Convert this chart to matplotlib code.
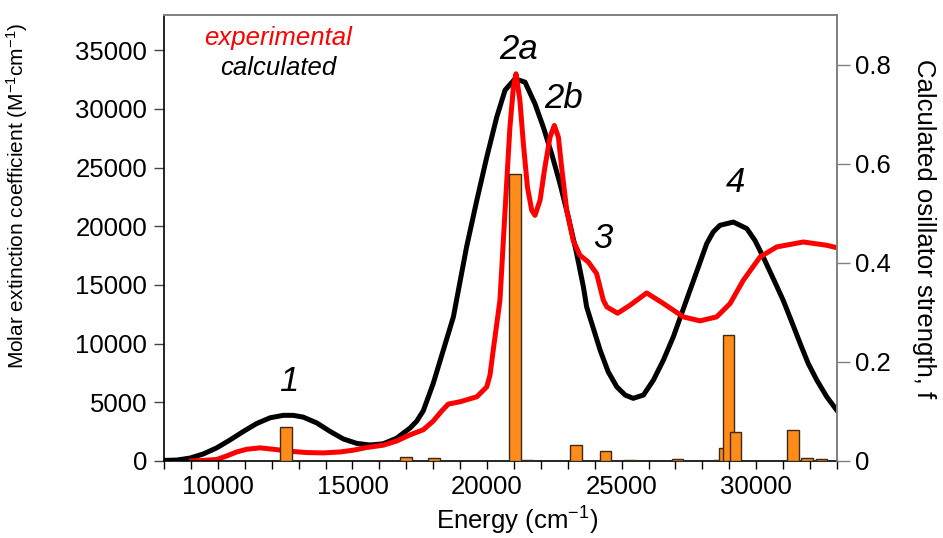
import matplotlib
matplotlib.use("Agg")
import matplotlib.pyplot as plt
from matplotlib.ticker import MultipleLocator

plt.rcParams['font.family'] = ['Liberation Sans', 'DejaVu Sans']
plt.rcParams['mathtext.fontset'] = 'custom'
plt.rcParams['mathtext.rm'] = 'Liberation Sans'
plt.rcParams['mathtext.it'] = 'Liberation Sans:italic'

# calculated spectrum (black)
calc_x = [8000, 8470, 8970, 9460, 9960, 10450, 10950, 11440, 11940, 12430,
          12800, 13170, 13670, 14170, 14660, 15160, 15650, 16150, 16640, 17140,
          17390, 17630, 18000, 18750, 19240, 19620, 19990, 20360, 20670, 21040,
          21410, 21780, 22090, 22400, 22710, 23020, 23330, 23580, 23700, 24200,
          24500, 24820, 25130, 25430, 25810, 26180, 26550, 26920, 27230, 27540,
          27850, 28160, 28400, 28650, 29150, 29650, 29950, 30260, 30630, 31000,
          31320, 31630, 31930, 32250, 32620, 33000]
calc_y = [50, 80, 250, 600, 1120, 1790, 2520, 3190, 3680, 3890,
          3890, 3740, 3250, 2520, 1880, 1500, 1360, 1470, 1940, 2810,
          3400, 4270, 6600, 12280, 18240, 22210, 25890, 29300, 31600, 32560,
          32280, 30440, 28450, 26180, 23630, 20790, 17670, 14830, 13130, 9450,
          7600, 6320, 5620, 5340, 5620, 6890, 8590, 10580, 12570, 14550,
          16530, 18520, 19510, 20080, 20360, 19800, 18800, 17380, 15550, 13700,
          11850, 10020, 8310, 6890, 5470, 4300]

# experimental spectrum (red)
exp_x = [9030, 9460, 9960, 10330, 10700, 11070, 11570, 12060, 12680, 13300,
         13920, 14540, 15030, 15530, 16150, 16640, 17140, 17630, 18000, 18320,
         18560, 19000, 19620, 19990, 20110, 20230, 20480, 20670, 20850, 20980,
         21076, 21220, 21350, 21500, 21660, 21780, 21970, 22150, 22340, 22500,
         22650, 22770, 22960, 23200, 23450, 23760, 24070, 24320, 24450, 24850,
         25310, 25930, 26550, 27290, 27910, 28530, 29030, 29520, 30140, 30760,
         31750, 32620, 33000]
exp_y = [0, 50, 130, 430, 770, 1000, 1120, 1000, 830, 720,
         690, 770, 920, 1150, 1350, 1700, 2230, 2660, 3400, 4270,
         4850, 5050, 5470, 6320, 7320, 9450, 13700, 21360, 28450, 31850,
         32990, 30750, 27030, 23340, 21360, 20930, 22210, 25040, 27600, 28590,
         27600, 25040, 21360, 18800, 17530, 16960, 15970, 13700, 13130, 12590,
         13270, 14320, 13420, 12280, 11940, 12280, 13420, 15400, 17380, 18240,
         18660, 18380, 18170]

# calculated oscillator strengths (bars, right axis)
osc_x = [12530, 16990, 18030, 21040, 21500, 23300, 23830, 24410, 25310, 26250,
         27080, 28060, 28600, 28830, 28980, 29220, 30020, 30950, 31370, 31890,
         32420]
osc_f = [0.068, 0.009, 0.006, 0.579, 0.002, 0.032, 0.001, 0.020, 0.002, 0.001,
         0.004, 0.001, 0.003, 0.026, 0.254, 0.058, 0.001, 0.001, 0.062, 0.006,
         0.004]

band_labels = ['1', '2a', '2b', '3', '4']
band_x = [12640, 21190, 22860, 24310, 29210]
band_y = [6800, 35060, 30890, 18980, 23740]

fig = plt.figure(figsize=(9.43, 5.38), dpi=100)
ax = fig.add_axes([164 / 943, 77 / 538, 673 / 943, 446 / 538])
ax2 = ax.twinx()

ax.plot(calc_x, calc_y, color='black', lw=3.6, solid_joinstyle='round')
ax.plot(exp_x, exp_y, color='#ff0000', lw=3.6, solid_joinstyle='round')
ax2.bar(osc_x, osc_f, width=420, color='#ff8c1a', edgecolor='#3b2a14', linewidth=1.0)

ax.set_xlim(8000, 33000)
ax.set_ylim(0, 38000)
ax2.set_ylim(0, 0.9)

ax.xaxis.set_major_locator(MultipleLocator(5000))
ax.xaxis.set_minor_locator(MultipleLocator(1000))
ax.yaxis.set_major_locator(MultipleLocator(5000))
ax2.set_yticks([0, 0.2, 0.4, 0.6, 0.8])
ax2.set_yticklabels(['0', '0.2', '0.4', '0.6', '0.8'])

ax.tick_params(axis='x', which='both', direction='out', length=6, width=1, labelsize=18.5, pad=4)
ax.tick_params(axis='y', direction='out', length=7, width=1, labelsize=18.5, pad=5, color='#444444')
ax2.tick_params(axis='y', direction='out', length=9, width=1, labelsize=18.5, pad=4, color='#808080')

for s in ['top', 'right']:
    ax.spines[s].set_color('#808080')
    ax2.spines[s].set_color('#808080')
ax.spines['left'].set_color('black')
ax.spines['bottom'].set_color('black')
ax2.spines['left'].set_visible(False)
ax2.spines['bottom'].set_visible(False)
for s in list(ax.spines.values()) + list(ax2.spines.values()):
    s.set_linewidth(1.2)

ax.set_xlabel('Energy (cm$^{-1}$)', fontsize=18.5)
ax.xaxis.set_label_coords(0.525, -0.098)
ax.set_ylabel('Molar extinction coefficient (M$^{-1}$cm$^{-1}$)', fontsize=15)
ax.yaxis.set_label_coords(-0.199, 0.595)
ax2.set_ylabel('Calculated osillator strength, f', fontsize=18.5, rotation=-90, va='center')
ax2.yaxis.set_label_coords(1.13, 0.52)

ax.text(12235, 36080, 'experimental', color='#ff0000', fontsize=18.5, style='italic',
        ha='center', va='center')
ax.text(12235, 33520, 'calculated', color='black', fontsize=18.5, style='italic',
        ha='center', va='center')

for lab, bx, by in zip(band_labels, band_x, band_y):
    ax.text(bx, by, lab, fontsize=25, style='italic', ha='center', va='center')

fig.savefig('out.png', dpi=100)
